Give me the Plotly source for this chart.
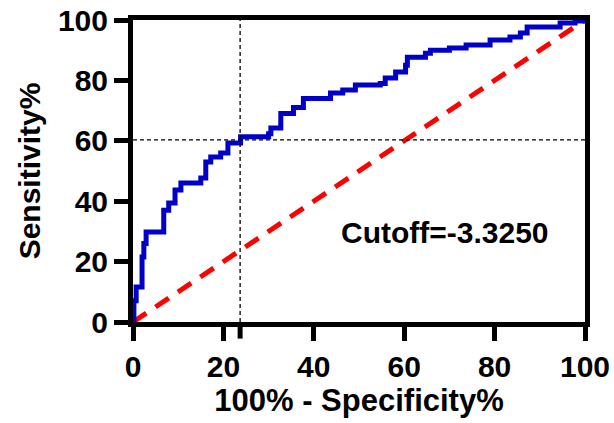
import plotly.graph_objects as go

# ROC curve corners (100% - Specificity%, Sensitivity%)
fpr = [0, 0.2, 0.7, 2.0, 2.4, 2.9, 6.8, 7.9, 9.3, 10.6, 15.0, 16.1, 17.2, 19.4,
       21.0, 23.8, 30.0, 30.5, 32.7, 35.5, 37.7, 43.7, 46.4, 49.2, 54.7, 55.8,
       58.1, 60.3, 60.7, 64.7, 65.8, 70.0, 73.7, 79.0, 83.4, 85.7, 87.2, 94.5,
       97.8, 100]
tpr = [0, 7.0, 11.6, 21.5, 26.0, 29.8, 37.0, 39.4, 43.7, 46.0, 47.7, 53.0, 54.6, 56.0,
       59.3, 61.3, 62.3, 64.2, 69.0, 71.0, 74.0, 75.8, 76.8, 78.5, 79.0, 80.8,
       82.8, 85.0, 87.7, 89.0, 90.0, 90.7, 91.7, 93.4, 94.4, 95.7, 97.7, 99.0,
       99.7, 100]

ref_x = [0, 100]
ref_y = [0, 100]

cut_x = 23.7
cut_y = 60.3
cut_label = "Cutoff=-3.3250"

x_ticks = [0, 20, 40, 60, 80, 100]
y_ticks = [0, 20, 40, 60, 80, 100]

FONT = "Liberation Sans"

fig = go.Figure()
fig.add_trace(go.Scatter(x=ref_x, y=ref_y, mode="lines",
                         line=dict(color="#FF0000", width=5, dash="16px,11px"),
                         hoverinfo="skip", cliponaxis=False))
fig.add_trace(go.Scatter(x=fpr, y=tpr, mode="lines", line_shape="hv",
                         line=dict(color="#0000C8", width=5), cliponaxis=False))

# cutoff crosshair
fig.add_shape(type="line", x0=cut_x, x1=cut_x, y0=0, y1=100, xref="x", yref="y",
              line=dict(color="black", width=1.3, dash="4px,3px"))
fig.add_shape(type="line", x0=0, x1=100, y0=cut_y, y1=cut_y, xref="x", yref="y",
              line=dict(color="black", width=1.3, dash="4px,3px"))
# cutoff tick on x axis
fig.add_shape(type="line", x0=cut_x, x1=cut_x, y0=0, y1=-0.055, xref="x", yref="paper",
              line=dict(color="black", width=5))

fig.add_annotation(x=69.1, y=29.8, xref="x", yref="y", text=cut_label,
                   showarrow=False, font=dict(family=FONT, size=30, color="black", weight="bold"))

axis_common = dict(showline=True, linewidth=5, linecolor="black", mirror=True,
                   ticks="outside", tickwidth=5, ticklen=14, tickcolor="black",
                   showgrid=False, zeroline=False, automargin=False,
                   tickfont=dict(family=FONT, size=30, color="black", weight="bold"))

fig.update_xaxes(range=[0, 100], tickvals=x_ticks,
                 title=dict(text="100% - Specificity%", standoff=6,
                            font=dict(family=FONT, size=31, color="black", weight="bold")),
                 **axis_common)
fig.update_yaxes(range=[0, 100], tickvals=y_ticks,
                 title=dict(text="Sensitivity%", standoff=10,
                            font=dict(family=FONT, size=30, color="black", weight="bold")),
                 **axis_common)

fig.update_layout(template="none", width=614, height=423, showlegend=False,
                  margin=dict(l=133, r=29, t=20, b=101),
                  plot_bgcolor="white", paper_bgcolor="white")

fig.write_html("out.html", config={"displayModeBar": False},
               post_script="document.body.style.margin='0';document.body.style.overflow='hidden';")
